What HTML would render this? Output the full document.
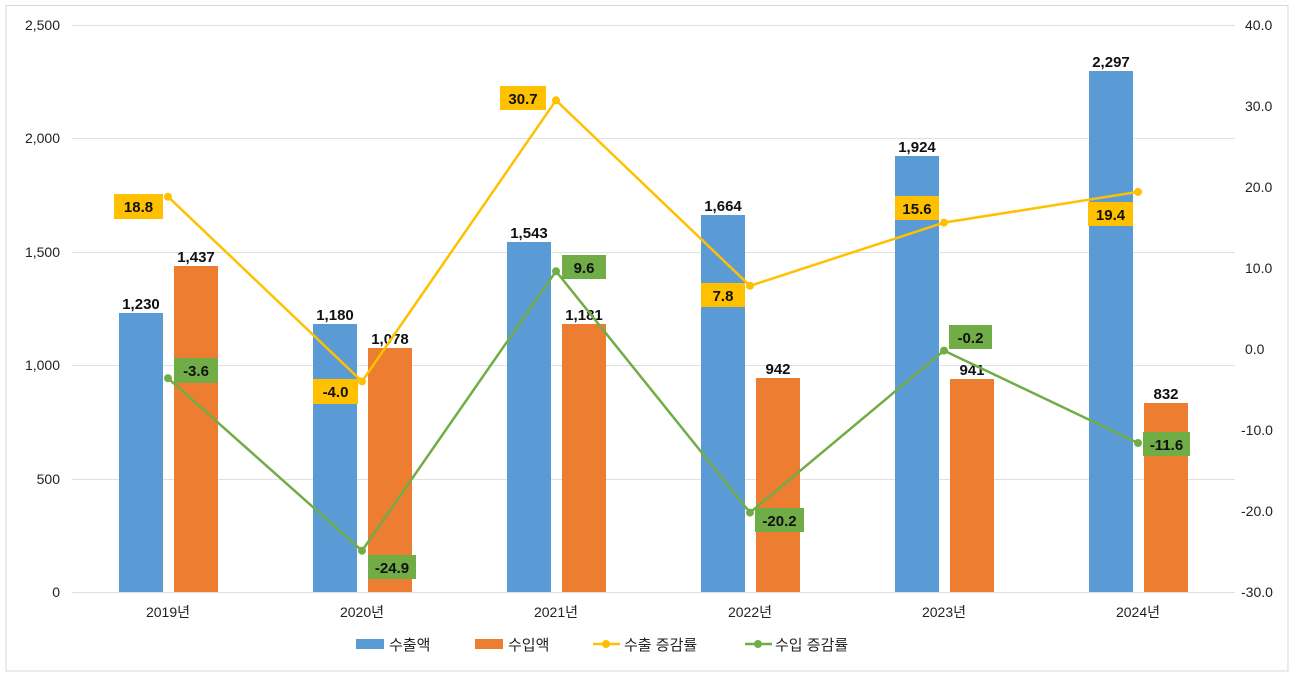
<!DOCTYPE html>
<html><head><meta charset="utf-8"><style>
body{margin:0;background:#fff}
svg text{font-family:"Liberation Sans","Noto Sans CJK KR",sans-serif}
</style></head><body>
<svg width="1299" height="680" viewBox="0 0 1299 680">
<rect x="6" y="5.5" width="1282" height="665.5" fill="#fff" stroke="#d9d9d9"/>
<g stroke="#e0e0e0" stroke-width="1">
<line x1="72" x2="1235" y1="25.5" y2="25.5"/>
<line x1="72" x2="1235" y1="138.5" y2="138.5"/>
<line x1="72" x2="1235" y1="252.5" y2="252.5"/>
<line x1="72" x2="1235" y1="365.5" y2="365.5"/>
<line x1="72" x2="1235" y1="479.5" y2="479.5"/>
<line x1="72" x2="1235" y1="592.5" y2="592.5"/>
</g>
<g font-size="14" fill="#222" text-anchor="end">
<text x="60" y="30">2,500</text><text x="60" y="143">2,000</text><text x="60" y="257">1,500</text>
<text x="60" y="370">1,000</text><text x="60" y="484">500</text><text x="60" y="597">0</text>
</g>
<g font-size="14" fill="#222" text-anchor="start">
<text x="1245" y="30">40.0</text><text x="1245" y="111">30.0</text><text x="1245" y="192">20.0</text>
<text x="1245" y="273">10.0</text><text x="1245" y="354">0.0</text><text x="1241" y="435">-10.0</text>
<text x="1241" y="516">-20.0</text><text x="1241" y="597">-30.0</text>
</g>
<g fill="#5b9bd5">
<rect x="119" y="313" width="44" height="279"/>
<rect x="313" y="324" width="44" height="268"/>
<rect x="507" y="242" width="44" height="350"/>
<rect x="701" y="215" width="44" height="377"/>
<rect x="895" y="156" width="44" height="436"/>
<rect x="1089" y="71" width="44" height="521"/>
</g>
<g fill="#ed7d31">
<rect x="174" y="266" width="44" height="326"/>
<rect x="368" y="348" width="44" height="244"/>
<rect x="562" y="324" width="44" height="268"/>
<rect x="756" y="378" width="44" height="214"/>
<rect x="950" y="379" width="44" height="213"/>
<rect x="1144" y="403" width="44" height="189"/>
</g>
<g font-size="15" font-weight="bold" fill="#111" text-anchor="middle">
<text x="141" y="309">1,230</text><text x="196" y="262">1,437</text>
<text x="335" y="320">1,180</text><text x="390" y="344">1,078</text>
<text x="529" y="238">1,543</text><text x="584" y="320">1,181</text>
<text x="723" y="211">1,664</text><text x="778" y="374">942</text>
<text x="917" y="152">1,924</text><text x="972" y="375">941</text>
<text x="1111" y="67">2,297</text><text x="1166" y="399">832</text>
</g>
<polyline fill="none" stroke="#ffc000" stroke-width="2.5" points="168,196.7 362,381.4 556,100.3 750,285.8 944,222.6 1138,191.9"/>
<polyline fill="none" stroke="#70ad47" stroke-width="2.5" points="168,378.2 362,550.7 556,271.2 750,512.6 944,350.6 1138,443"/>
<g fill="#ffc000"><circle cx="168" cy="196.7" r="4"/><circle cx="362" cy="381.4" r="4"/><circle cx="556" cy="100.3" r="4"/><circle cx="750" cy="285.8" r="4"/><circle cx="944" cy="222.6" r="4"/><circle cx="1138" cy="191.9" r="4"/></g>
<g fill="#70ad47"><circle cx="168" cy="378.2" r="4"/><circle cx="362" cy="550.7" r="4"/><circle cx="556" cy="271.2" r="4"/><circle cx="750" cy="512.6" r="4"/><circle cx="944" cy="350.6" r="4"/><circle cx="1138" cy="443" r="4"/></g>
<g fill="#ffc000">
<rect x="114" y="194" width="49" height="25"/><rect x="313" y="379" width="45" height="25"/>
<rect x="500" y="86" width="46" height="24"/><rect x="701" y="283" width="44" height="24"/>
<rect x="895" y="196" width="44" height="24"/><rect x="1088" y="202" width="45" height="24"/>
</g>
<g fill="#70ad47">
<rect x="174" y="358" width="44" height="25"/><rect x="368" y="555" width="48" height="24"/>
<rect x="562" y="255" width="44" height="24"/><rect x="755" y="508" width="49" height="24"/>
<rect x="949" y="325" width="43" height="24"/><rect x="1143" y="432" width="47" height="24"/>
</g>
<g font-size="15" font-weight="bold" fill="#111" text-anchor="middle">
<text x="138.5" y="212">18.8</text><text x="335.5" y="397">-4.0</text>
<text x="523" y="104">30.7</text><text x="723" y="301">7.8</text>
<text x="917" y="214">15.6</text><text x="1110.5" y="220">19.4</text>
<text x="196" y="376">-3.6</text><text x="392" y="573">-24.9</text>
<text x="584" y="273">9.6</text><text x="779.5" y="526">-20.2</text>
<text x="970.5" y="343">-0.2</text><text x="1166.5" y="450">-11.6</text>
</g>
<g font-size="14" fill="#222" text-anchor="middle">
<text x="168" y="617">2019년</text><text x="362" y="617">2020년</text><text x="556" y="617">2021년</text>
<text x="750" y="617">2022년</text><text x="944" y="617">2023년</text><text x="1138" y="617">2024년</text>
</g>
<rect x="356" y="639" width="28" height="10" fill="#5b9bd5"/>
<text x="389" y="650" font-size="15" fill="#222">수출액</text>
<rect x="475" y="639" width="28" height="10" fill="#ed7d31"/>
<text x="508" y="650" font-size="15" fill="#222">수입액</text>
<line x1="593" x2="620" y1="644" y2="644" stroke="#ffc000" stroke-width="2.5"/><circle cx="606" cy="644" r="4" fill="#ffc000"/>
<text x="624" y="650" font-size="15" fill="#222">수출 증감률</text>
<line x1="745" x2="772" y1="644" y2="644" stroke="#70ad47" stroke-width="2.5"/><circle cx="758" cy="644" r="4" fill="#70ad47"/>
<text x="775" y="650" font-size="15" fill="#222">수입 증감률</text>
</svg>
</body></html>
